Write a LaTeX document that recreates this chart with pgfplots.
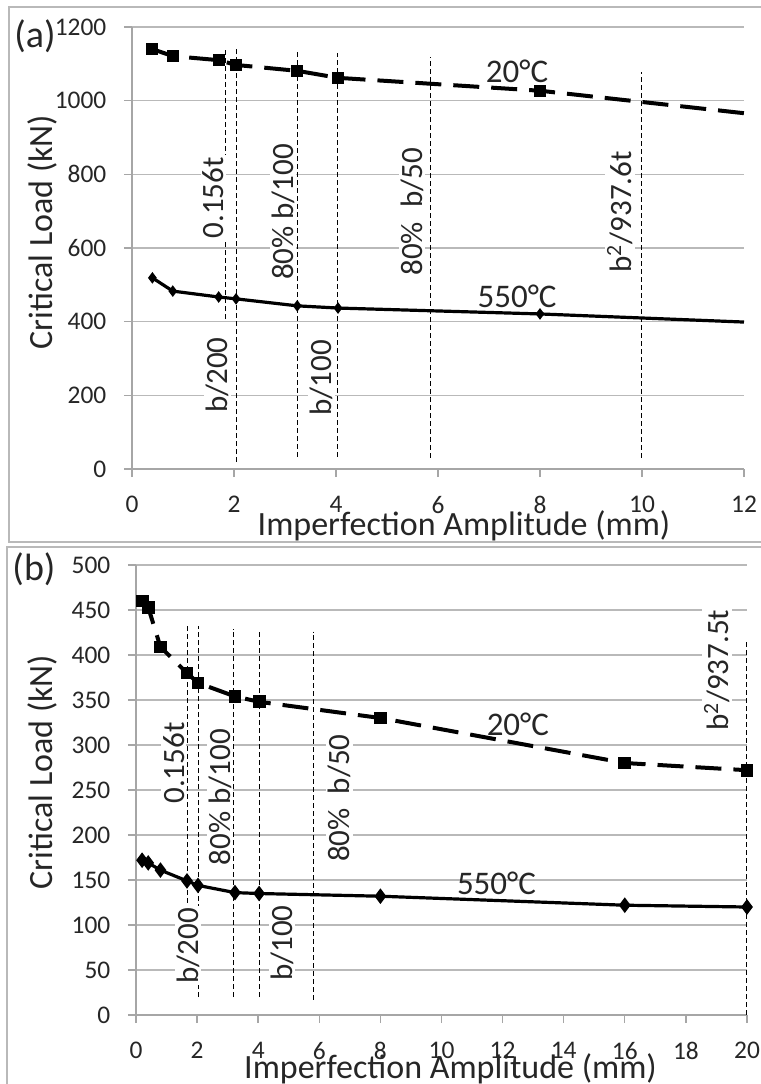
\documentclass[border=0pt]{standalone}
\usepackage{fontspec}
\setmainfont{Carlito}
\usepackage{pgfplots}
\pgfplotsset{compat=1.18}
\pgfplotsset{
  common/.style={
    scale only axis, clip=false,
    axis x line*=bottom, axis y line*=left,
    axis line style={gray!70, line width=0.7pt, -},
    tick align=outside, major tick length=4pt,
    tick style={gray!70, line width=0.7pt},
    ymajorgrids, grid style={gray!55, line width=0.6pt},
    /pgf/number format/assume math mode=true,
    /pgf/number format/1000 sep={},
    scaled ticks=false,
    tick label style={font=\fontsize{12.7}{15}\selectfont, text=black!85},
    xticklabel style={yshift=-6pt},
    yticklabel style={xshift=-5.3pt},
    label style={font=\fontsize{17}{20}\selectfont, text=black!85},
    xlabel={Imperfection Amplitude (mm)},
    ylabel={Critical Load (kN)},
  },
  vline/.style={black, line width=0.5pt, dash pattern=on 2.5pt off 1.5pt, forget plot},
  t20/.style={black, line width=2pt, dash pattern=on 13pt off 6pt, mark=square*, mark options={solid, fill=black}},
  t550/.style={black, line width=1.6pt, mark=diamond*, mark options={solid, fill=black}},
}
\tikzset{
  ann/.style={rotate=90, fill=white, inner sep=1pt, font=\fontsize{15.5}{18}\selectfont, text=black!85},
  tlab/.style={inner sep=0pt, font=\fontsize{16.5}{19}\selectfont, text=black!85},
}
\begin{document}
\begin{tikzpicture}
\useasboundingbox (0,0) rectangle (380.5pt,-542pt);
\draw[gray!55, line width=0.8pt] (4.5pt,-3.5pt) rectangle (383pt,-271pt);
\draw[gray!55, line width=0.8pt] (3.5pt,-273.5pt) rectangle (383pt,-546pt);

% ---------- (a) ----------
\begin{axis}[common,
  at={(66pt,-234.5pt)}, anchor=south west,
  width=306pt, height=221pt,
  xmin=0, xmax=12, ymin=0, ymax=1200,
  xtick={0,2,...,12}, ytick={0,200,...,1200},
  xlabel style={at={(axis description cs:0.5,0)}, anchor=base, yshift=-33pt, xshift=13pt},
  ylabel style={at={(axis description cs:0,0.536)}, anchor=center, yshift=45pt},
]
\addplot[vline] coordinates {(1.84,407) (1.84,1143)};
\addplot[vline] coordinates {(2.04,19) (2.04,1143)};
\addplot[vline] coordinates {(3.25,33) (3.25,1132)};
\addplot[vline] coordinates {(4.03,33) (4.03,1130)};
\addplot[vline] coordinates {(5.86,30) (5.86,1119)};
\addplot[vline] coordinates {(10.0,30) (10.0,1078)};
\addplot[t20, mark size=2pt, mark indices={1,2,3,4,5,6,7}] coordinates {
 (0.4,1140) (0.8,1121) (1.7,1110) (2.04,1097) (3.24,1081) (4.04,1062) (8,1027) (12,966)};
\addplot[t550, mark size=1.6pt, mark indices={1,2,3,4,5,6,7}] coordinates {
 (0.4,519) (0.8,483) (1.7,467) (2.04,462) (3.24,443) (4.04,437) (8,421) (12,399)};
\node[ann] at (axis cs:1.59,736) {0.156t};
\node[ann] at (axis cs:2.96,698) {80\% b/100};
\node[ann] at (axis cs:5.49,698) {80\%\ \ b/50};
\node[ann] at (axis cs:9.57,698) {b\textsuperscript{2}/937.6t};
\node[ann] at (axis cs:1.67,255) {b/200};
\node[ann] at (axis cs:3.72,248) {b/100};
\node[tlab] at (axis cs:7.55,1081) {20°C};
\node[tlab] at (axis cs:7.55,470) {550°C};
\end{axis}
\node[font=\fontsize{19}{22}\selectfont, text=black!85, inner sep=0pt] at (17.5pt,-18pt) {(a)};

% ---------- (b) ----------
\begin{axis}[common,
  at={(68pt,-507.5pt)}, anchor=south west,
  width=305.5pt, height=225pt,
  xmin=0, xmax=20, ymin=0, ymax=500,
  xtick={0,2,...,20}, ytick={0,50,...,500},
  xlabel style={at={(axis description cs:0.5,0)}, anchor=base, yshift=-31.5pt, xshift=4.5pt},
  ylabel style={at={(axis description cs:0,0.54)}, anchor=center, yshift=47pt},
]
\addplot[vline] coordinates {(1.7,125) (1.7,432)};
\addplot[vline] coordinates {(2.06,20) (2.06,432)};
\addplot[vline] coordinates {(3.2,20) (3.2,429)};
\addplot[vline] coordinates {(4.04,20) (4.04,428)};
\addplot[vline] coordinates {(5.8,17) (5.8,426)};
\addplot[vline] coordinates {(20,0) (20,417)};
\addplot[t20, mark size=2.2pt] coordinates {
 (0.2,460) (0.4,453) (0.8,409) (1.67,380) (2.03,369) (3.24,354) (4.03,348) (8,330) (16,280) (20,272)};
\addplot[t550, mark size=2.6pt] coordinates {
 (0.2,172) (0.4,169) (0.8,161) (1.67,149) (2.03,144) (3.24,136) (4.03,135) (8,132) (16,122) (20,120)};
\node[ann] at (axis cs:1.24,280) {0.156t};
\node[ann] at (axis cs:2.75,242) {80\% b/100};
\node[ann] at (axis cs:6.65,241) {80\%\ \ b/50};
\node[ann] at (axis cs:19.02,383) {b\textsuperscript{2}/937.5t};
\node[ann] at (axis cs:1.7,77) {b/200};
\node[ann] at (axis cs:4.78,80) {b/100};
\node[tlab] at (axis cs:12.5,323) {20°C};
\node[tlab] at (axis cs:11.8,146) {550°C};
\end{axis}
\node[font=\fontsize{19}{22}\selectfont, text=black!85, inner sep=0pt] at (17pt,-284.5pt) {(b)};
\end{tikzpicture}
\end{document}
